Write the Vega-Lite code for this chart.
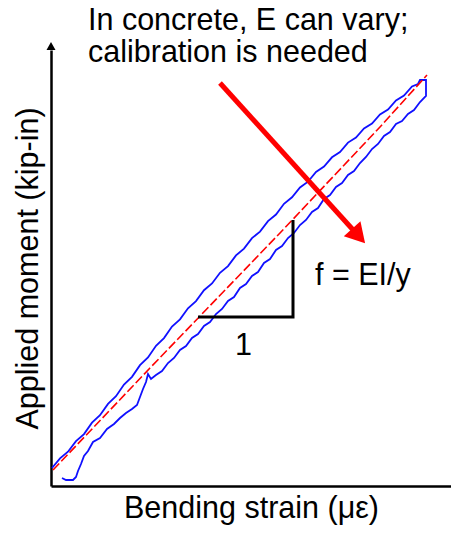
{
  "$schema": "https://vega.github.io/schema/vega-lite/v6.json",
  "width": 400,
  "height": 436,
  "autosize": "none",
  "padding": {"left": 51, "top": 50, "right": 0, "bottom": 47},
  "background": "white",
  "config": {"view": {"stroke": null}, "axis": {"grid": false}},
  "datasets": {
    "loop": [
      {"o":0,"s":1,"m":18},{"o":1,"s":9,"m":27.6},{"o":2,"s":17,"m":34.3},{"o":3,"s":25,"m":44.9},{"o":4,"s":33,"m":51.9},{"o":5,"s":41,"m":63.3},{"o":6,"s":49,"m":70.8},{"o":7,"s":57,"m":82.1},{"o":8,"s":65,"m":89.8},{"o":9,"s":73,"m":101.4},{"o":10,"s":81,"m":109.2},{"o":11,"s":89,"m":120.8},{"o":12,"s":97,"m":128.5},{"o":13,"s":105,"m":140.2},{"o":14,"s":113,"m":147.9},{"o":15,"s":121,"m":159.4},{"o":16,"s":129,"m":166.6},{"o":17,"s":137,"m":177.7},{"o":18,"s":145,"m":184.9},{"o":19,"s":153,"m":195.8},{"o":20,"s":161,"m":202.5},{"o":21,"s":169,"m":213.2},{"o":22,"s":177,"m":219.9},{"o":23,"s":185,"m":230.6},{"o":24,"s":193,"m":237.4},{"o":25,"s":201,"m":247.9},{"o":26,"s":209,"m":254.4},{"o":27,"s":217,"m":264.9},{"o":28,"s":225,"m":271.5},{"o":29,"s":233,"m":282.2},{"o":30,"s":241,"m":288.7},{"o":31,"s":249,"m":298.5},{"o":32,"s":257,"m":304.3},{"o":33,"s":265,"m":314.1},{"o":34,"s":273,"m":319.5},{"o":35,"s":281,"m":328.7},{"o":36,"s":289,"m":334},{"o":37,"s":297,"m":343.4},{"o":38,"s":305,"m":348.5},{"o":39,"s":313,"m":357.5},{"o":40,"s":321,"m":362.5},{"o":41,"s":329,"m":371.5},{"o":42,"s":337,"m":376.5},{"o":43,"s":345,"m":385.5},{"o":44,"s":353,"m":390.5},{"o":45,"s":361,"m":399.5},{"o":46,"s":367,"m":402},{"o":47,"s":369,"m":406},{"o":48,"s":375,"m":406},
      {"o":49,"s":375,"m":390},{"o":50,"s":369,"m":384},{"o":51,"s":363,"m":376},{"o":52,"s":357,"m":372},{"o":53,"s":351,"m":365},{"o":54,"s":345,"m":362},{"o":55,"s":339,"m":354},{"o":56,"s":333,"m":350},{"o":57,"s":327,"m":342},{"o":58,"s":321,"m":337},{"o":59,"s":315,"m":329},{"o":60,"s":309,"m":323},{"o":61,"s":303,"m":315},{"o":62,"s":297,"m":311},{"o":63,"s":291,"m":303},{"o":64,"s":285,"m":299},{"o":65,"s":279,"m":291},{"o":66,"s":273,"m":287},{"o":67,"s":267,"m":278},{"o":68,"s":261,"m":274},{"o":69,"s":255,"m":266},{"o":70,"s":249,"m":261},{"o":71,"s":243,"m":253},{"o":72,"s":237,"m":248},{"o":73,"s":231,"m":240},{"o":74,"s":225,"m":236},{"o":75,"s":219,"m":227},{"o":76,"s":213,"m":223},{"o":77,"s":207,"m":214},{"o":78,"s":201,"m":210},{"o":79,"s":195,"m":202},{"o":80,"s":189,"m":198},{"o":81,"s":183,"m":189},{"o":82,"s":177,"m":185},{"o":83,"s":171,"m":177},{"o":84,"s":165,"m":172},{"o":85,"s":159,"m":164},{"o":86,"s":153,"m":160},{"o":87,"s":147,"m":152},{"o":88,"s":141,"m":148},{"o":89,"s":135,"m":140},{"o":90,"s":129,"m":136},{"o":91,"s":123,"m":128},{"o":92,"s":117,"m":123},{"o":93,"s":111,"m":115},{"o":94,"s":105,"m":111},{"o":95,"s":100,"m":107},{"o":96,"s":97,"m":112},{"o":97,"s":95,"m":104},{"o":98,"s":92,"m":97},{"o":99,"s":89,"m":89},{"o":100,"s":86,"m":81},{"o":101,"s":81,"m":77},{"o":102,"s":75,"m":73},{"o":103,"s":69,"m":68},{"o":104,"s":63,"m":62},{"o":105,"s":56,"m":57},{"o":106,"s":49,"m":48},{"o":107,"s":42,"m":44},{"o":108,"s":37,"m":35},{"o":109,"s":33,"m":30},{"o":110,"s":30,"m":22},{"o":111,"s":27,"m":15},{"o":112,"s":25,"m":9},{"o":113,"s":22,"m":6},{"o":114,"s":15,"m":6},{"o":115,"s":11,"m":8}
    ],
    "fit": [{"s":2,"m":16},{"s":99,"m":118},{"s":229,"m":253},{"s":329,"m":359},{"s":376,"m":411}],
    "slope": [{"o":0,"s":147,"m":169},{"o":1,"s":242,"m":169},{"o":2,"s":242,"m":266}],
    "arrow": [{"s":169,"m":403},{"s":304,"m":254}],
    "arrowhead": [{"s":307.6,"m":250}],
    "yhead": [{"s":0,"m":440}],
    "notes": [
      {"s":37,"m":456,"t":"In concrete, E can vary;"},
      {"s":37,"m":424,"t":"calibration is needed"},
      {"s":264,"m":201,"t":"f = EI/y"},
      {"s":184,"m":131,"t":"1"}
    ]
  },
  "encoding": {
    "x": {"field":"s","type":"quantitative","scale":{"domain":[0,400],"nice":false,"zero":false},
      "axis":{"title":"Bending strain (με)","labels":false,"ticks":false,"grid":false,"domainColor":"black","domainWidth":2.5,"titleFont":"Liberation Sans","titleFontSize":30.5,"titleFontWeight":"normal","titleColor":"black","titlePadding":7}},
    "y": {"field":"m","type":"quantitative","scale":{"domain":[0,436],"nice":false,"zero":false},
      "axis":{"title":"Applied moment (kip-in)","labels":false,"ticks":false,"grid":false,"domainColor":"black","domainWidth":2.5,"titleFont":"Liberation Sans","titleFontSize":30.5,"titleFontWeight":"normal","titleColor":"black","titlePadding":8}}
  },
  "layer": [
    {"data":{"name":"loop"},"mark":{"type":"line","color":"#1010ff","strokeWidth":1.8},"encoding":{"order":{"field":"o","type":"quantitative"}}},
    {"data":{"name":"fit"},"mark":{"type":"line","color":"#ff0000","strokeWidth":1.6,"strokeDash":[9,3]},"encoding":{}},
    {"data":{"name":"slope"},"mark":{"type":"line","color":"black","strokeWidth":3,"strokeJoin":"miter"},"encoding":{"order":{"field":"o","type":"quantitative"}}},
    {"data":{"name":"arrow"},"mark":{"type":"line","color":"#ff0000","strokeWidth":5},"encoding":{}},
    {"data":{"name":"arrowhead"},"mark":{"type":"point","shape":"triangle-up","filled":true,"color":"#ff0000","size":500,"angle":138,"opacity":1},"encoding":{}},
    {"data":{"name":"yhead"},"mark":{"type":"point","shape":"triangle-up","filled":true,"color":"black","size":81,"opacity":1},"encoding":{}},
    {"data":{"name":"notes"},"mark":{"type":"text","align":"left","baseline":"alphabetic","font":"Liberation Sans","fontSize":30.5,"color":"black"},"encoding":{"text":{"field":"t","type":"nominal"}}}
  ]
}
